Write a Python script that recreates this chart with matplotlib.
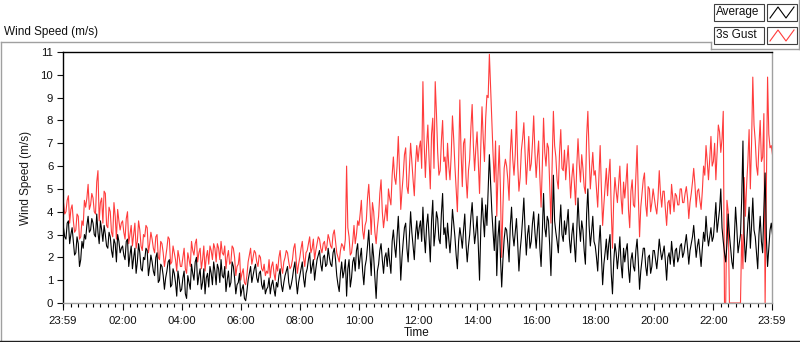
import numpy as np
import matplotlib
matplotlib.use("Agg")
import matplotlib.pyplot as plt
from matplotlib.lines import Line2D
from matplotlib.patches import Rectangle
from matplotlib.ticker import FixedLocator, MultipleLocator

plt.rcParams['font.family'] = ['Liberation Sans', 'DejaVu Sans']

# Samples on the 5-minute marks 00:00 ... 24:00, one row per hour
average = [
    3.3, 2.8, 3.6, 3.0, 2.7, 2.2, 2.6, 1.9, 2.4, 2.8, 3.8, 3.2,
    3.5, 2.9, 3.1, 3.6, 2.7, 3.0, 2.4, 2.9, 2.0, 2.6, 3.0, 2.2,
    2.5, 1.9, 2.8, 2.1, 1.5, 2.4, 1.8, 2.2, 1.4, 1.9, 2.3, 1.6,
    1.8, 1.2, 2.2, 1.0, 1.6, 0.6, 1.4, 1.9, 0.8, 1.3, 0.3, 1.0,
    0.6, 1.4, 0.2, 0.9, 1.7, 1.0, 2.0, 1.2, 0.6, 1.5, 1.1, 0.7,
    1.3, 1.8, 0.8, 1.5, 1.9, 1.1, 0.5, 1.4, 0.9, 1.6, 0.4, 0.9,
    0.3, 0.8, 0.1, 1.0, 1.6, 1.2, 1.7, 0.9, 1.4, 0.6, 0.4, 0.7,
    0.4, 1.0, 0.3, 0.7, 1.5, 0.5, 1.2, 1.6, 0.6, 1.1, 1.8, 0.4,
    1.2, 1.8, 0.7, 1.5, 2.2, 1.6, 1.0, 1.9, 2.3, 1.4, 2.1, 1.7,
    2.0, 1.6, 2.4, 1.2, 0.5, 1.8, 1.4, 0.3, 1.9, 1.1, 2.0, 2.3,
    1.5, 2.4, 0.8, 1.9, 3.2, 1.2, 2.0, 0.2, 1.7, 2.6, 1.3, 2.2,
    2.4, 1.3, 3.2, 2.0, 3.8, 1.0, 2.7, 3.5, 1.8, 4.0, 2.5, 3.0,
    2.8, 3.6, 4.2, 2.2, 3.9, 1.8, 4.5, 3.1, 3.7, 2.6, 4.8, 3.3,
    3.5, 2.2, 4.1, 2.9, 1.5, 3.3, 2.4, 3.9, 1.8, 3.0, 4.4, 2.6,
    3.8, 1.0, 4.6, 2.9, 3.4, 6.5, 4.0, 2.3, 1.2, 3.6, 0.7, 2.8,
    3.2, 1.8, 4.2, 2.5, 3.7, 1.4, 2.9, 4.6, 2.1, 3.4, 2.7, 4.0,
    2.4, 3.9, 1.6, 4.8, 2.9, 3.6, 1.2, 5.6, 3.1, 2.2, 4.3, 2.7,
    3.0, 4.1, 2.2, 3.5, 1.8, 4.6, 2.7, 3.2, 1.7, 5.0, 2.5, 3.8,
    2.5, 1.4, 3.4, 0.8, 2.2, 1.9, 3.0, 0.4, 2.6, 1.5, 2.9, 1.1,
    1.8, 2.6, 0.9, 2.2, 1.4, 2.8, 0.6, 1.9, 2.4, 1.2, 2.1, 1.6,
    2.3, 1.5, 2.8, 1.9, 2.5, 1.0, 2.2, 2.7, 1.6, 2.4, 2.0, 2.6,
    2.2, 3.0, 1.7, 2.6, 3.4, 2.0, 2.8, 1.6, 3.1, 3.8, 2.5, 3.3,
    2.9, 4.4, 3.6, 5.0, 2.7, 1.8, 3.9, 2.4, 1.5, 4.2, 2.2, 3.0,
    7.1, 1.8, 3.5, 2.4, 4.6, 2.9, 1.5, 3.8, 2.2, 5.7, 1.6, 3.2, 3.0,
]

# Samples half-way between the 5-minute marks (00:02:30 ... 23:57:30)
average_mid = [
    2.9, 3.5, 2.6, 3.3, 2.1, 2.9, 1.6, 2.7, 3.0, 3.4, 3.1, 3.7,
    3.0, 3.9, 2.6, 3.2, 3.4, 2.5, 3.1, 2.3, 2.8, 1.8, 2.7, 2.4,
    2.1, 2.7, 1.6, 2.5, 2.0, 1.3, 2.6, 1.5, 2.0, 2.4, 1.2, 2.1,
    1.4, 2.0, 0.9, 1.7, 1.2, 1.1, 1.8, 0.7, 1.5, 0.9, 1.4, 0.5,
    1.1, 0.4, 1.2, 0.6, 1.3, 1.8, 0.8, 1.5, 0.9, 0.4, 1.3, 1.6,
    0.8, 1.4, 1.7, 0.9, 1.2, 1.6, 1.0, 0.7, 1.8, 1.1, 0.8, 1.3,
    0.6, 0.2, 0.5, 1.3, 0.9, 1.5, 1.1, 1.3, 0.8, 1.0, 0.6, 1.1,
    0.8, 0.6, 0.9, 1.2, 0.8, 0.9, 1.4, 0.9, 0.8, 1.5, 1.0, 0.9,
    1.5, 1.1, 1.3, 1.9, 1.3, 1.9, 1.5, 2.1, 1.7, 2.0, 1.6, 2.4,
    1.7, 2.2, 1.9, 0.8, 1.3, 1.1, 1.9, 1.5, 0.7, 1.8, 1.4, 2.6,
    2.0, 1.4, 1.6, 2.5, 2.1, 2.6, 1.1, 1.4, 2.3, 1.9, 2.0, 1.6,
    1.8, 2.7, 2.5, 2.9, 2.6, 2.0, 3.3, 2.4, 2.9, 3.1, 1.9, 3.6,
    3.3, 2.7, 3.0, 3.4, 2.9, 3.6, 2.5, 4.0, 2.8, 3.9, 3.0, 2.4,
    2.8, 3.0, 3.5, 2.1, 2.7, 2.9, 3.2, 2.6, 2.5, 3.8, 3.4, 3.1,
    2.5, 3.2, 3.7, 4.3, 5.0, 5.2, 3.1, 3.8, 2.9, 2.0, 1.9, 3.3,
    2.6, 3.4, 3.0, 3.1, 2.6, 2.3, 3.7, 3.2, 3.0, 2.4, 3.5, 3.1,
    3.2, 2.4, 3.1, 3.3, 3.8, 2.5, 3.1, 3.6, 2.7, 3.4, 3.0, 3.6,
    3.5, 2.8, 3.0, 2.6, 3.2, 3.4, 3.6, 2.3, 3.9, 3.4, 3.1, 2.7,
    2.0, 2.6, 2.1, 1.7, 2.8, 2.6, 1.3, 1.8, 2.2, 2.1, 1.7, 2.4,
    2.3, 1.5, 1.9, 1.6, 2.3, 1.8, 1.4, 2.4, 1.6, 2.0, 1.3, 2.3,
    1.9, 2.1, 2.3, 2.2, 1.8, 2.0, 1.7, 2.1, 2.3, 1.8, 2.5, 2.0,
    2.6, 2.4, 2.3, 2.9, 2.7, 2.5, 2.2, 2.4, 2.7, 3.0, 2.9, 2.7,
    3.6, 3.1, 4.1, 3.3, 2.2, 2.6, 3.0, 1.8, 2.9, 3.3, 2.6, 4.6,
    3.0, 2.6, 4.2, 3.4, 3.2, 2.2, 3.0, 2.7, 4.1, 2.9, 2.4, 3.5,
]

gust_3s = [
    4.4, 4.0, 4.7, 4.1, 3.6, 3.2, 3.8, 2.9, 3.4, 4.2, 5.2, 4.3,
    4.6, 3.9, 5.8, 4.4, 3.5, 4.8, 3.3, 4.0, 2.9, 3.8, 4.1, 3.2,
    3.6, 2.8, 4.0, 3.0, 2.5, 3.5, 2.7, 3.2, 2.3, 2.9, 3.3, 2.6,
    2.8, 2.2, 3.0, 1.9, 2.6, 1.6, 2.4, 2.8, 1.8, 2.2, 1.4, 2.0,
    1.6, 2.4, 1.3, 1.9, 2.7, 2.1, 2.8, 2.2, 1.5, 2.5, 2.0, 1.7,
    2.3, 2.6, 1.8, 2.4, 2.7, 2.1, 1.5, 2.3, 1.8, 2.4, 1.2, 1.7,
    1.0, 1.5, 0.8, 1.8, 2.4, 2.0, 2.2, 1.6, 2.0, 1.4, 1.2, 1.3,
    1.1, 1.8, 1.0, 1.4, 2.3, 1.3, 2.0, 2.2, 1.5, 1.9, 2.6, 1.3,
    2.0, 2.7, 1.6, 2.3, 2.9, 2.4, 1.9, 2.6, 2.8, 2.2, 2.7, 2.5,
    2.8, 2.4, 3.2, 2.2, 1.8, 2.6, 2.3, 6.0, 2.9, 2.2, 3.4, 3.0,
    3.4, 4.5, 2.8, 3.6, 5.2, 3.0, 4.0, 2.6, 3.8, 5.4, 3.3, 4.3,
    5.0, 4.3, 6.4, 5.2, 7.3, 4.1, 5.6, 6.8, 4.8, 7.0, 5.4, 6.1,
    6.2, 7.1, 9.7, 5.5, 7.8, 5.0, 8.1, 9.7, 6.6, 5.8, 8.0, 6.4,
    7.0, 5.4, 8.2, 6.0, 4.0, 8.9, 5.1, 7.2, 4.6, 6.3, 8.7, 5.8,
    7.5, 4.8, 8.6, 6.2, 9.1, 10.9, 8.0, 5.3, 3.8, 6.9, 2.0, 5.9,
    6.0, 4.5, 7.6, 5.6, 8.4, 4.9, 6.7, 7.9, 5.2, 7.3, 6.1, 8.2,
    5.5, 7.1, 4.2, 8.1, 6.0, 6.8, 3.5, 8.4, 6.4, 5.0, 7.6, 5.8,
    5.4, 6.9, 4.6, 6.1, 4.3, 7.2, 5.3, 5.9, 4.8, 8.4, 5.0, 6.6,
    5.8, 4.2, 6.9, 3.4, 5.1, 4.7, 6.3, 2.4, 5.5, 4.4, 6.0, 3.9,
    4.6, 6.1, 3.3, 5.4, 4.2, 6.9, 2.9, 4.8, 5.7, 3.8, 5.0, 4.4,
    4.6, 3.9, 5.8, 4.2, 4.9, 3.4, 4.5, 5.2, 4.0, 4.7, 4.3, 5.0,
    4.4, 5.1, 3.7, 4.8, 5.9, 4.2, 5.0, 4.1, 6.0, 6.9, 5.4, 7.3,
    6.2, 5.4, 7.8, 6.6, 8.4, 0.0, 4.0, 0.0, 0.0, 0.0, 0.0, 0.0,
    1.5, 3.8, 6.2, 5.0, 9.9, 7.1, 5.6, 8.0, 6.4, 0.0, 9.9, 6.8, 6.5,
]

gust_3s_mid = [
    3.9, 4.5, 3.5, 4.3, 3.1, 3.9, 2.8, 3.6, 4.5, 4.6, 4.1, 4.8,
    4.0, 5.3, 3.6, 4.6, 4.9, 3.4, 4.2, 3.1, 4.4, 2.8, 3.6, 3.5,
    3.1, 3.7, 2.6, 3.4, 3.0, 2.4, 3.6, 2.5, 3.0, 3.4, 2.2, 3.1,
    2.4, 2.9, 2.0, 2.7, 2.2, 2.0, 2.9, 1.7, 2.5, 1.9, 2.3, 1.6,
    2.0, 1.5, 2.2, 1.6, 2.3, 2.6, 1.8, 2.4, 1.9, 1.4, 2.3, 2.5,
    1.9, 2.4, 2.6, 1.9, 2.2, 2.5, 2.0, 1.7, 2.5, 2.0, 1.6, 2.2,
    1.3, 0.9, 1.2, 2.1, 1.7, 2.3, 1.8, 2.1, 1.5, 1.7, 1.4, 1.9,
    1.6, 1.3, 1.7, 2.0, 1.6, 1.8, 2.3, 1.8, 1.6, 2.4, 1.9, 1.7,
    2.4, 2.0, 2.2, 2.6, 2.2, 2.8, 2.3, 2.9, 2.4, 2.6, 2.3, 3.0,
    2.5, 3.0, 2.7, 2.0, 2.3, 2.5, 2.8, 3.3, 2.1, 2.7, 2.6, 3.6,
    3.9, 3.2, 3.4, 4.6, 4.2, 4.4, 3.1, 3.3, 4.8, 4.0, 3.8, 3.6,
    4.6, 5.6, 5.5, 6.0, 5.8, 4.9, 6.5, 5.1, 5.9, 6.2, 4.7, 6.9,
    6.8, 5.9, 7.0, 6.9, 6.3, 7.4, 5.9, 8.3, 5.6, 7.1, 6.2, 5.4,
    6.0, 6.5, 7.2, 5.0, 6.1, 6.6, 7.0, 5.5, 5.8, 7.7, 6.9, 6.8,
    6.1, 6.8, 7.2, 8.1, 9.0, 9.4, 6.5, 7.1, 5.6, 4.9, 4.2, 6.3,
    5.4, 6.6, 6.3, 6.5, 6.1, 5.5, 7.2, 6.5, 6.2, 5.8, 7.0, 6.6,
    6.4, 5.5, 6.0, 6.6, 7.0, 5.2, 6.1, 6.9, 5.4, 6.6, 5.9, 6.7,
    6.2, 5.7, 5.5, 5.3, 6.0, 6.1, 6.5, 5.1, 7.3, 6.6, 5.8, 5.6,
    5.0, 5.5, 5.0, 4.3, 5.9, 5.6, 4.1, 4.5, 4.9, 5.2, 4.6, 5.3,
    5.3, 4.1, 4.9, 4.3, 5.6, 4.7, 4.2, 5.4, 4.3, 5.1, 4.0, 5.0,
    4.2, 4.6, 4.8, 4.9, 4.1, 4.4, 3.9, 4.6, 4.8, 4.3, 5.0, 4.4,
    4.8, 4.6, 4.4, 5.3, 5.2, 4.9, 4.5, 4.9, 5.6, 6.2, 6.3, 6.0,
    7.0, 6.6, 7.5, 7.2, 0.0, 4.5, 0.0, 0.0, 0.0, 0.0, 0.0, 3.0,
    5.5, 5.2, 7.6, 7.0, 7.8, 6.0, 6.9, 6.2, 8.3, 5.1, 7.4, 6.9,
]

series_names = ["Average", "3s Gust"]
series_colors = ["#000000", "#ff3c3c"]
y_ticks = list(range(0, 12))
x_tick_labels = ["23:59", "02:00", "04:00", "06:00", "08:00", "10:00", "12:00",
                 "14:00", "16:00", "18:00", "20:00", "22:00", "23:59"]
x_tick_minutes = [-1, 120, 240, 360, 480, 600, 720, 840, 960, 1080, 1200, 1320, 1439]


def interleave(on_marks, half_way):
    n = len(on_marks) + len(half_way)
    t = np.arange(n) * 2.5
    v = np.empty(n)
    v[0::2] = on_marks
    v[1::2] = half_way
    return t, v


t_avg, v_avg = interleave(average, average_mid)
t_gst, v_gst = interleave(gust_3s, gust_3s_mid)

W, H = 800, 342
fig = plt.figure(figsize=(W / 100, H / 100), dpi=100)
fig.patch.set_facecolor('white')


def fx(px):
    return px / W


def fy(py):
    return 1 - py / H


ax = fig.add_axes([fx(63), fy(303), fx(772) - fx(63), fy(52) - fy(303)])
ax.plot(t_avg, v_avg, color=series_colors[0], lw=0.8, zorder=3)
ax.plot(t_gst, v_gst, color=series_colors[1], lw=0.8, zorder=2)
ax.set_xlim(-1, 1439)
ax.set_ylim(0, 11)

ax.set_yticks(y_ticks)
ax.set_yticklabels([str(v) for v in y_ticks])
ax.xaxis.set_major_locator(FixedLocator(x_tick_minutes))
ax.set_xticklabels(x_tick_labels)
ax.xaxis.set_minor_locator(MultipleLocator(15))

ax.tick_params(axis='y', length=4, width=0.8, pad=3, labelsize=8.2, colors='#111111')
ax.tick_params(axis='x', which='major', length=5, width=0.8, pad=4, labelsize=8.2, colors='#111111')
ax.tick_params(axis='x', which='minor', length=3, width=0.8)

for side in ['top', 'left']:
    ax.spines[side].set_color('black')
    ax.spines[side].set_linewidth(1.0)
for side in ['bottom', 'right']:
    ax.spines[side].set_color('#a0a0a0')
    ax.spines[side].set_linewidth(1.0)

ax.set_ylabel("Wind Speed (m/s)", fontsize=8.5, color='#1a1a1a', labelpad=6)
ax.set_xlabel("Time", fontsize=8.5, color='#111111')
ax.xaxis.set_label_coords((417 - 63) / (772 - 63), -(327 - 303) / (303 - 52))

# title
fig.text(fx(4), fy(32), "Wind Speed (m/s)", fontsize=8.5, va='center', ha='left', color='#111111')

# outer frame lines
fig.add_artist(Line2D([fx(0.5), fx(711)], [fy(42), fy(42)], color='#a0a0a0', lw=1.0))
fig.add_artist(Line2D([fx(0.5), fx(0.5)], [fy(42), fy(340)], color='#a0a0a0', lw=1.0))
fig.add_artist(Line2D([fx(0), fx(800)], [fy(340.5), fy(340.5)], color='#202020', lw=1.0))
fig.add_artist(Line2D([fx(711), fx(711)], [fy(42), fy(49)], color='#a0a0a0', lw=1.0))
fig.add_artist(Line2D([fx(711), fx(799)], [fy(49), fy(49)], color='#a0a0a0', lw=1.0))
fig.add_artist(Line2D([fx(799), fx(799)], [fy(0), fy(49)], color='#a0a0a0', lw=1.0))

# legend
rows_y = [(4, 21), (27, 44)]
for name, col, (y0, y1) in zip(series_names, series_colors, rows_y):
    fig.add_artist(Rectangle((fx(714), fy(y1)), fx(764) - fx(714), fy(y0) - fy(y1),
                             facecolor='white', edgecolor='#404040', lw=0.8))
    fig.text(fx(716), fy((y0 + y1) / 2), name, fontsize=8.5, va='center', ha='left', color='#111111')
    fig.add_artist(Rectangle((fx(767), fy(y1)), fx(797) - fx(767), fy(y0) - fy(y1),
                             facecolor='white', edgecolor='#404040', lw=0.8))
    zx = [770, 778, 786, 794]
    zy = [y1 - 3, y0 + 3, y1 - 3, y0 + 3]
    fig.add_artist(Line2D([fx(v) for v in zx], [fy(v) for v in zy], color=col, lw=0.8))

fig.savefig("out.png", dpi=100, facecolor='white')
